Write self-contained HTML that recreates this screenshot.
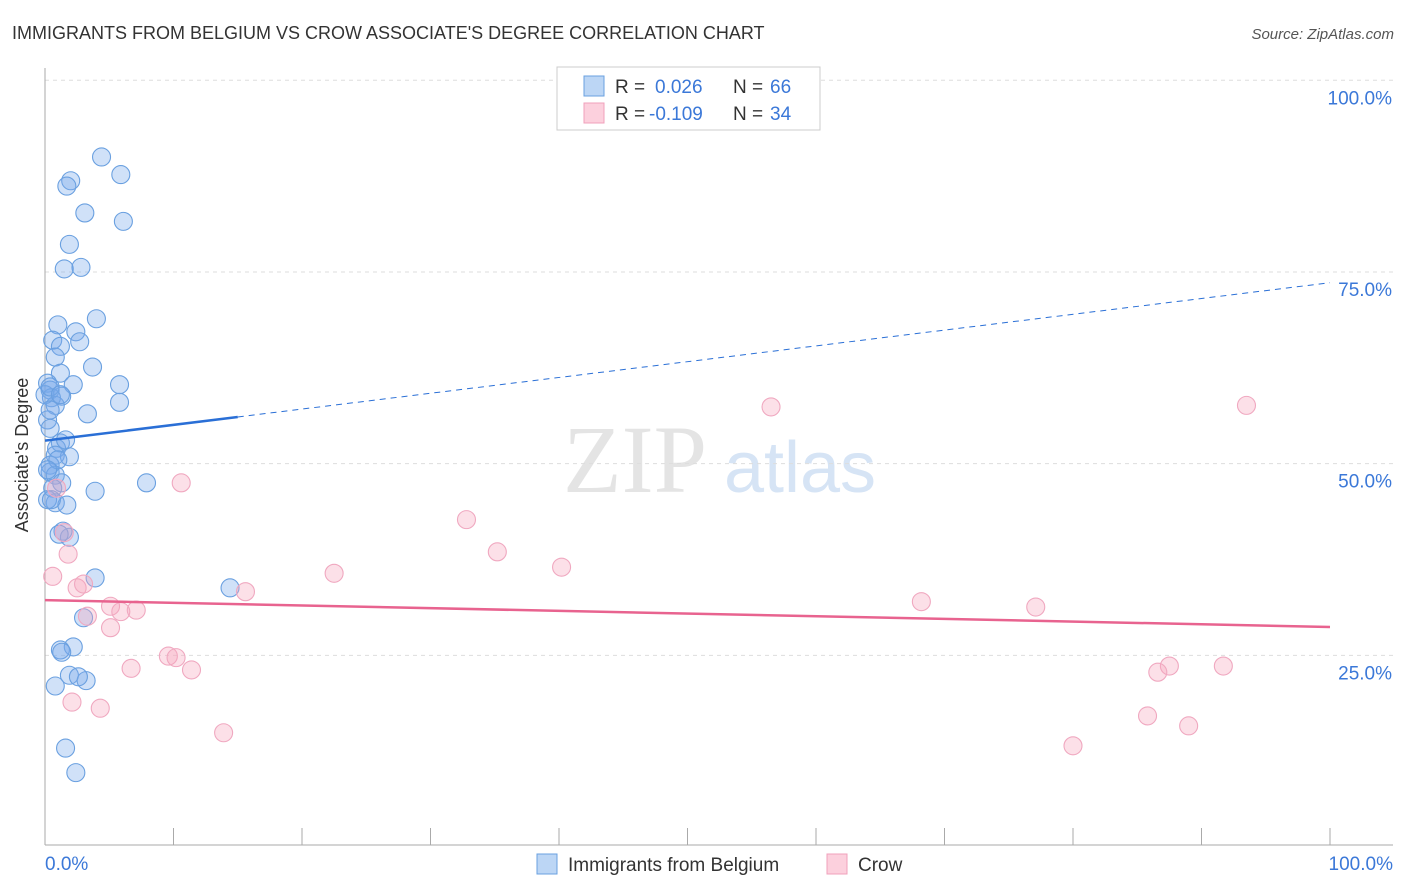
<!DOCTYPE html>
<html><head><meta charset="utf-8"><style>
body{margin:0;background:#fff;font-family:"Liberation Sans",sans-serif;}
svg{display:block}
</style></head><body>
<svg id="chart" width="1406" height="892">
<text x="12" y="39" font-size="18" fill="#333">IMMIGRANTS FROM BELGIUM VS CROW ASSOCIATE'S DEGREE CORRELATION CHART</text>
<text x="1394" y="39" font-size="15" fill="#555" font-style="italic" text-anchor="end">Source: ZipAtlas.com</text>
<text x="28" y="455" font-size="18" fill="#333" text-anchor="middle" transform="rotate(-90 28 455)">Associate's Degree</text>
<g>
<text x="635" y="492" font-size="96" fill="#e4e4e4" font-family="Liberation Serif,serif" text-anchor="middle">ZIP</text>
<text x="800" y="492" font-size="72" fill="#d6e4f5" text-anchor="middle">atlas</text>
</g>
<g id="grid"></g><g id="axes"></g><g id="pts"></g><g id="lines"></g>
<g>
<rect x="557" y="67" width="263" height="63" fill="#fff" stroke="#ccc"/>
<rect x="584" y="76" width="20" height="20" fill="#bcd6f5" stroke="#6aa0e0"/>
<rect x="584" y="103" width="20" height="20" fill="#fcd0dd" stroke="#f0a0bb"/>
<text x="615" y="93" font-size="19" fill="#333">R = </text><text x="655" y="93" font-size="19" fill="#3b78d8">0.026</text>
<text x="733" y="93" font-size="19" fill="#333">N = </text><text x="770" y="93" font-size="19" fill="#3b78d8">66</text>
<text x="615" y="120" font-size="19" fill="#333">R = </text><text x="649" y="120" font-size="19" fill="#3b78d8">-0.109</text>
<text x="733" y="120" font-size="19" fill="#333">N = </text><text x="770" y="120" font-size="19" fill="#3b78d8">34</text>
</g>
<g>
<rect x="537" y="854" width="20" height="20" fill="#bcd6f5" stroke="#6aa0e0"/>
<text x="568" y="871" font-size="19" fill="#333">Immigrants from Belgium</text>
<rect x="827" y="854" width="20" height="20" fill="#fcd0dd" stroke="#f0a0bb"/>
<text x="858" y="871" font-size="19" fill="#333">Crow</text>
</g>
</svg>
<script>
const blueX=[4.4,5.9,2.0,1.7,3.1,6.1,1.9,1.5,2.8,4.0,1.0,2.4,2.7,0.6,1.2,0.8,3.7,1.2,0.2,2.2,5.8,0.4,1.3,0.5,5.8,0.8,3.3,0.2,0.4,1.2,0.9,0.8,1.9,0.4,0.4,0.8,1.3,7.9,0.6,3.9,0.8,1.7,1.4,1.9,1.1,3.9,14.4,3.0,2.2,1.2,1.3,1.9,3.2,2.6,0.8,1.6,2.4,0.0,0.4,0.2,0.5,1.0,0.4,1.6,0.2,1.2];
const blueY=[90.0,87.7,86.9,86.2,82.7,81.6,78.6,75.4,75.6,68.9,68.1,67.2,65.9,66.1,65.3,63.9,62.6,61.8,60.5,60.3,60.3,59.6,58.8,58.6,58.0,57.6,56.5,55.7,54.6,52.7,52.0,51.1,50.9,49.8,48.9,48.5,47.5,47.5,46.8,46.4,44.9,44.6,41.2,40.4,40.8,35.1,33.8,29.9,26.1,25.7,25.4,22.4,21.7,22.2,21.0,12.9,9.7,59.0,57.0,45.3,45.3,50.5,60.0,53.1,49.2,59.0];
const pinkX=[0.6,1.8,1.5,0.9,10.6,2.5,3.0,5.1,5.9,7.1,3.3,5.1,6.7,9.6,10.2,11.4,2.1,4.3,13.9,15.6,22.5,32.8,35.2,40.2,56.5,68.2,77.1,93.5,87.5,86.6,91.7,85.8,89.0,80.0];
const pinkY=[35.3,38.2,41.0,46.8,47.5,33.8,34.3,31.4,30.7,30.9,30.1,28.6,23.3,24.9,24.7,23.1,18.9,18.1,14.9,33.3,35.7,42.7,38.5,36.5,57.4,32.0,31.3,57.6,23.6,22.8,23.6,17.1,15.8,13.2];
const yTicks=[25,50,75,100];
const yTickLabels=["25.0%","50.0%","75.0%","100.0%"];
const blueTrend=[53.0,73.6];
const pinkTrend=[32.2,28.7];
const NS="http://www.w3.org/2000/svg";
const sx=v=>45+v*12.85, sy=v=>847-v*7.667;
function mk(tag,attrs,parent){const e=document.createElementNS(NS,tag);for(const k in attrs)e.setAttribute(k,attrs[k]);document.getElementById(parent).appendChild(e);return e;}
yTicks.forEach((t,i)=>{
 const g=mk('line',{x1:45,x2:1393,y1:sy(t),y2:sy(t),stroke:'#ddd','stroke-dasharray':'4,4'},'grid');
 
 
 const l=mk('text',{x:1392,y:sy(t)+24,'font-size':19,fill:'#3b78d8','text-anchor':'end'},'grid');
 l.textContent=yTickLabels[i];
 
 
});
mk('line',{x1:45,x2:45,y1:68,y2:845,stroke:'#aaa'},'axes');
mk('line',{x1:45,x2:1393,y1:845,y2:845,stroke:'#aaa'},'axes');
for(let i=0;i<=10;i++){mk('line',{x1:sx(i*10),x2:sx(i*10),y1:828,y2:845,stroke:'#aaa'},'axes');}
let a=mk('text',{x:45,y:870,'font-size':19,fill:'#3b78d8'},'axes');a.textContent='0.0%';


a=mk('text',{x:1393,y:870,'font-size':19,fill:'#3b78d8','text-anchor':'end'},'axes');a.textContent='100.0%';


blueX.forEach((x,i)=>{const c=mk('circle',{cx:sx(x),cy:sy(blueY[i]),r:9,fill:'rgba(120,170,235,0.35)',stroke:'#6aa0e0','stroke-width':1.1},'pts');
 
 });
pinkX.forEach((x,i)=>{const c=mk('circle',{cx:sx(x),cy:sy(pinkY[i]),r:9,fill:'rgba(245,165,190,0.35)',stroke:'#f0a8c0','stroke-width':1.1},'pts');
 
 });
const bAt=x=>blueTrend[0]+(blueTrend[1]-blueTrend[0])*x/100;
let t=mk('line',{x1:sx(0),y1:sy(bAt(0)),x2:sx(15),y2:sy(bAt(15)),stroke:'#2a6fd6','stroke-width':2.5},'lines');


t=mk('line',{x1:sx(15),y1:sy(bAt(15)),x2:sx(100),y2:sy(bAt(100)),stroke:'#2a6fd6','stroke-width':1,'stroke-dasharray':'6,5'},'lines');


t=mk('line',{x1:sx(0),y1:sy(pinkTrend[0]),x2:sx(100),y2:sy(pinkTrend[1]),stroke:'#e8638f','stroke-width':2.5},'lines');


</script>
</body></html>
